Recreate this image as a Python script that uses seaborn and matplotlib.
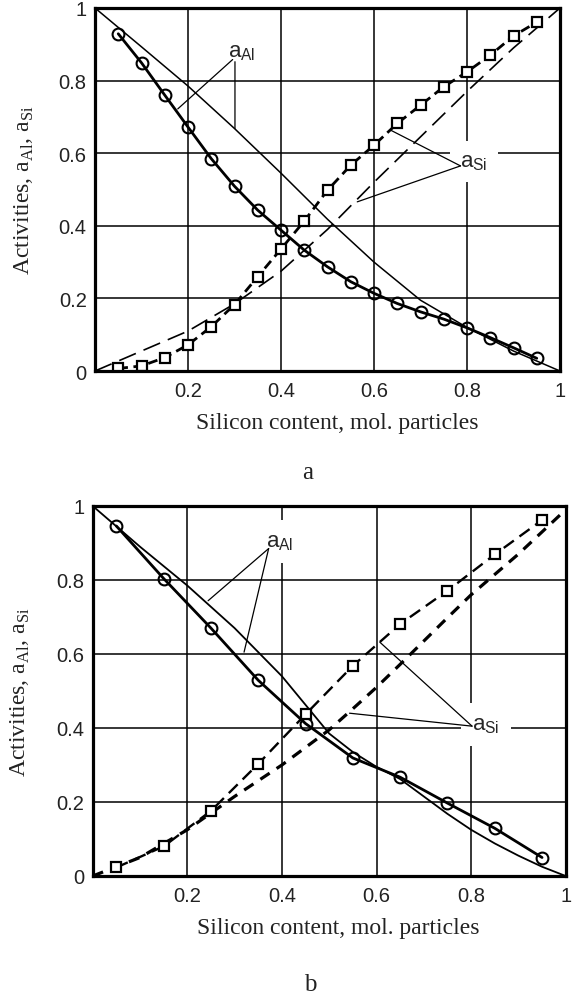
import matplotlib
matplotlib.use("Agg")
import matplotlib.pyplot as plt
import seaborn as sns
import pandas as pd

# ---------------- data ----------------
# panel a
xa_exp = [0.05, 0.10, 0.15, 0.20, 0.25, 0.30, 0.35, 0.40, 0.45, 0.50,
          0.55, 0.60, 0.65, 0.70, 0.75, 0.80, 0.85, 0.90, 0.95]
aAl_a_exp = [0.929, 0.849, 0.760, 0.672, 0.585, 0.509, 0.443, 0.388, 0.333, 0.287,
             0.246, 0.214, 0.186, 0.163, 0.143, 0.119, 0.092, 0.064, 0.035]
aSi_a_exp = [0.007, 0.014, 0.037, 0.072, 0.122, 0.183, 0.260, 0.336, 0.413, 0.498,
             0.567, 0.622, 0.682, 0.732, 0.783, 0.824, 0.870, 0.923, 0.961]
xa_mod = [0.0, 0.1, 0.2, 0.3, 0.4, 0.5, 0.6, 0.7, 0.8, 0.9, 1.0]
aAl_a_mod = [1.0, 0.893, 0.785, 0.668, 0.545, 0.418, 0.300, 0.195, 0.120, 0.055, 0.0]
aSi_a_mod = [0.0, 0.055, 0.110, 0.185, 0.275, 0.390, 0.520, 0.645, 0.770, 0.890, 1.0]

# panel b
xb_exp = [0.05, 0.15, 0.25, 0.35, 0.45, 0.55, 0.65, 0.75, 0.85, 0.95]
aAl_b_exp = [0.946, 0.804, 0.670, 0.529, 0.412, 0.319, 0.267, 0.197, 0.129, 0.050]
aSi_b_exp = [0.023, 0.080, 0.176, 0.303, 0.437, 0.568, 0.681, 0.771, 0.869, 0.962]
xb_mod = [0.0, 0.1, 0.2, 0.3, 0.4, 0.5, 0.55, 0.6, 0.65, 0.7, 0.75, 0.8, 0.85, 0.9, 0.95, 1.0]
aAl_b_mod = [1.0, 0.890, 0.785, 0.670, 0.540, 0.385, 0.335, 0.295, 0.262, 0.215, 0.168,
             0.125, 0.088, 0.055, 0.025, 0.0]
aSi_b_mod = [0.0, 0.050, 0.125, 0.215, 0.300, 0.395, 0.452, 0.510, 0.572, 0.635, 0.698,
             0.760, 0.815, 0.870, 0.930, 0.99]

xticks = [0.2, 0.4, 0.6, 0.8, 1.0]
xticklabels = ["0.2", "0.4", "0.6", "0.8", "1"]
yticks = [0.0, 0.2, 0.4, 0.6, 0.8, 1.0]
yticklabels = ["0", "0.2", "0.4", "0.6", "0.8", "1"]

xlabel = "Silicon content, mol. particles"
ylabel = r"Activities, a$_{\mathregular{Al}}$, a$_{\mathregular{Si}}$"
lab_al = r"a$_{\mathregular{Al}}$"
lab_si = r"a$_{\mathregular{Si}}$"

# ---------------- style ----------------
sns.set_style("white")
plt.rcParams["font.family"] = ["Liberation Sans", "DejaVu Sans"]
plt.rcParams["mathtext.fontset"] = "custom"
plt.rcParams["lines.scale_dashes"] = False
SERIF = ["Liberation Serif", "DejaVu Serif"]

fig = plt.figure(figsize=(5.74, 9.95), dpi=100)
axa = fig.add_axes([95 / 574, 1 - 372 / 995, 465 / 574, 363 / 995])
axb = fig.add_axes([92.7 / 574, 1 - 877 / 995, 473 / 574, 370 / 995])


def style_axes(ax, axh_px):
    ax.set_xlim(0, 1)
    ax.set_ylim(0, 1)
    ax.set_xticks(xticks)
    ax.set_xticklabels(xticklabels, fontsize=14.5, color="#222222")
    ax.set_yticks(yticks)
    ax.set_yticklabels(yticklabels, fontsize=14.5, color="#222222")
    ax.tick_params(length=0, pad=7)
    ax.tick_params(axis="y", pad=6)
    ax.grid(True, color="black", linewidth=1.1)
    ax.set_axisbelow(True)
    for s in ax.spines.values():
        s.set_color("black")
        s.set_linewidth(2.3)
        s.set_visible(True)
    ax.set_xlabel(xlabel, family=SERIF, fontsize=17, va="center", color="#222222")
    ax.xaxis.set_label_coords(0.52, -52 / axh_px)
    ax.set_ylabel(ylabel, family=SERIF, fontsize=17, va="center", color="#222222")
    ax.yaxis.set_label_coords(-71 / 465, 0.5)


def lp(ax, x, y, **kw):
    df = pd.DataFrame({"x": x, "y": y})
    sns.lineplot(data=df, x="x", y="y", ax=ax, color="black", sort=True,
                 estimator=None, **kw)


# ---------------- panel a ----------------
lp(axa, xa_mod, aAl_a_mod, linewidth=1.1)
lp(axa, xa_mod, aSi_a_mod, linewidth=1.2, linestyle=(0, (13, 6)))
lp(axa, xa_exp, aAl_a_exp, linewidth=2.0, marker="o", markersize=8.5,
   markerfacecolor="none", markeredgecolor="black", markeredgewidth=1.5)
lp(axa, xa_exp, aSi_a_exp, linewidth=2.0, linestyle=(0, (7, 4)), marker="s",
   markersize=7.5, markerfacecolor="white", markeredgecolor="black",
   markeredgewidth=1.6)
style_axes(axa, 363)

axa.text(0.286, 0.879, lab_al, fontsize=16, ha="left", va="center", zorder=6)
axa.annotate("", xy=(0.178, 0.722), xytext=(0.296, 0.858),
             arrowprops=dict(arrowstyle="-", lw=0.9, color="black",
                             shrinkA=0, shrinkB=0))
axa.annotate("", xy=(0.301, 0.668), xytext=(0.301, 0.852),
             arrowprops=dict(arrowstyle="-", lw=0.9, color="black",
                             shrinkA=0, shrinkB=0))
axa.text(0.786, 0.578, lab_si, fontsize=16, ha="left", va="center", zorder=6,
         bbox=dict(facecolor="white", edgecolor="none", boxstyle="square,pad=0.45"))
for pt in [(0.635, 0.664), (0.564, 0.466)]:
    axa.annotate("", xy=pt, xytext=(0.786, 0.565),
                 arrowprops=dict(arrowstyle="-", lw=0.9, color="black",
                                 shrinkA=0, shrinkB=0), zorder=7)

# ---------------- panel b ----------------
lp(axb, xb_mod, aAl_b_mod, linewidth=1.3)
lp(axb, xb_mod, aSi_b_mod, linewidth=2.3, linestyle=(0, (8, 6)))
lp(axb, xb_exp, aAl_b_exp, linewidth=2.0, marker="o", markersize=8.5,
   markerfacecolor="none", markeredgecolor="black", markeredgewidth=1.5)
lp(axb, xb_exp, aSi_b_exp, linewidth=1.7, linestyle=(0, (9, 5)), marker="s",
   markersize=7.5, markerfacecolor="white", markeredgecolor="black",
   markeredgewidth=1.6)
style_axes(axb, 370)

axb.text(0.366, 0.905, lab_al, fontsize=16, ha="left", va="center", zorder=6,
         bbox=dict(facecolor="white", edgecolor="none", boxstyle="square,pad=0.5"))
for pt in [(0.244, 0.744), (0.32, 0.605)]:
    axb.annotate("", xy=pt, xytext=(0.372, 0.885),
                 arrowprops=dict(arrowstyle="-", lw=0.9, color="black",
                                 shrinkA=0, shrinkB=0), zorder=7)
axb.text(0.802, 0.41, lab_si, fontsize=16, ha="left", va="center", zorder=6,
         bbox=dict(facecolor="white", edgecolor="none", boxstyle="square,pad=0.5"))
for pt in [(0.607, 0.632), (0.543, 0.44)]:
    axb.annotate("", xy=pt, xytext=(0.802, 0.405),
                 arrowprops=dict(arrowstyle="-", lw=0.9, color="black",
                                 shrinkA=0, shrinkB=0), zorder=7)

fig.text(308 / 574, 1 - 473 / 995, "a", family=SERIF, fontsize=18,
         ha="center", va="center", color="#222222")
fig.text(310 / 574, 1 - 985 / 995, "b", family=SERIF, fontsize=18,
         ha="center", va="center", color="#222222")

fig.savefig("out.png", dpi=100, facecolor="white")
